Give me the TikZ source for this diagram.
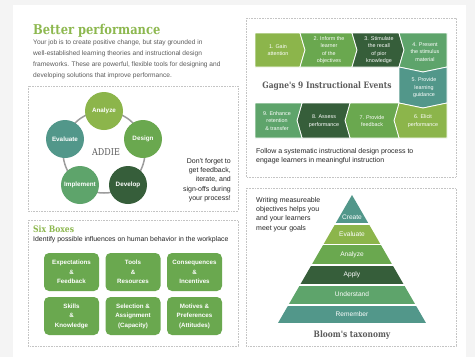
\documentclass[tikz,border=0pt]{standalone}
\usepackage{fontspec}
\setmainfont{Liberation Sans}
\newfontfamily\slab{DejaVu Serif}[FakeStretch=0.85]
\usetikzlibrary{positioning}

\definecolor{olive}{HTML}{8CB54B}
\definecolor{leaf}{HTML}{6AA84F}
\definecolor{forest}{HTML}{365E3A}
\definecolor{mint}{HTML}{5EA46B}
\definecolor{sea}{HTML}{52978A}
\definecolor{headgreen}{HTML}{8DB84F}
\definecolor{txtgray}{HTML}{5B5B5B}
\definecolor{txtdark}{HTML}{262626}
\definecolor{pagegray}{HTML}{F4F4F4}
\definecolor{ringgray}{HTML}{9C9C9C}
\definecolor{dotgray}{HTML}{C4C4C4}

\begin{document}
\begin{tikzpicture}
  [x=1pt,y=-1pt,every node/.style={inner sep=0pt,align=center}]

  \tikzstyle{dotbox} = [dotgray,densely dotted,line width=0.6pt]
  \tikzstyle{addie} = [circle,minimum size=38pt,text=white,font=\bfseries\fontsize{6.3}{7}\selectfont]
  \tikzstyle{sixbox} = [fill=leaf,rounded corners=5pt,minimum width=55pt,minimum height=38pt,text=white,font=\bfseries\fontsize{6.2}{9.5}\selectfont]
  \tikzstyle{chev} = [draw=white,line width=0.8pt]
  \tikzstyle{gtxt} = [text=white,font=\fontsize{5.4}{7.5}\selectfont]
  \tikzstyle{ptxt} = [text=white,font=\fontsize{6.6}{7}\selectfont]
  \tikzstyle{para} = [anchor=north west,align=left,text=txtdark,font=\fontsize{7}{9.3}\selectfont]
  \tikzstyle{head} = [text=txtgray,font=\slab\bfseries\fontsize{8.8}{9}\selectfont]

  \fill[pagegray] (0,0) rectangle (475,357);
  \fill[white] (13,5) rectangle (466,357);

  \draw[dotbox] (28,86) rectangle (238,211);
  \draw[dotbox] (28,220) rectangle (238,346);
  \draw[dotbox] (246,18) rectangle (456,177);
  \draw[dotbox] (246,188) rectangle (456,346);

  \node[anchor=west,text=headgreen,font=\slab\bfseries\fontsize{13.5}{14}\selectfont] (title) at (33,31) {Better performance};
  \node[para,text=txtgray,font=\fontsize{6.6}{11}\selectfont] (intro) at (33,40)
    {Your job is to create positive change, but stay grounded in\\
     well-established learning theories and instructional design\\
     frameworks. These are powerful, flexible tools for designing and\\
     developing solutions that improve performance.};

  \draw[ringgray,line width=1.5pt] (104,152) circle [radius=41pt];
  \node[addie,fill=olive]  (analyze)   at (104,111) {Analyze};
  \node[addie,fill=leaf]   (design)    at (143,139) {Design};
  \node[addie,fill=forest] (develop)   at (128,185) {Develop};
  \node[addie,fill=mint]   (implement) at (80,185)  {Implement};
  \node[addie,fill=sea]    (evaluate)  at (65,139)  {Evaluate};
  \node[text=txtgray,font=\slab\fontsize{9.5}{10}\selectfont] (addie) at (106,152) {ADDIE};
  \node[para,anchor=north east,align=right] (reminder) at (231,158)
    {Don't forget to\\get feedback,\\iterate, and\\sign-offs during\\your process!};

  \node[anchor=west,text=headgreen,font=\slab\bfseries\fontsize{9}{9}\selectfont] (sixtitle) at (33,229) {Six Boxes};
  \node[anchor=west,text=txtdark,font=\fontsize{6.9}{8}\selectfont] (sixsub) at (33,239.5)
    {Identify possible influences on human behavior in the workplace};
  \node[sixbox] (expect)   at (71.5,272) {Expectations\\\&\\Feedback};
  \node[sixbox] (tools)    at (133,272)  {Tools\\\&\\Resources};
  \node[sixbox] (conseq)   at (194.5,272) {Consequences\\\&\\Incentives};
  \node[sixbox] (skills)   at (71.5,316) {Skills\\\&\\Knowledge};
  \node[sixbox] (select)   at (133,316)  {Selection \&\\Assignment\\(Capacity)};
  \node[sixbox] (motives)  at (194.5,316) {Motives \&\\Preferences\\(Attitudes)};

  \filldraw[chev,fill=olive]  (255,33) -- (300,33) -- (305,50) -- (300,67) -- (255,67) -- cycle;
  \filldraw[chev,fill=leaf]   (300,33) -- (352,33) -- (357,50) -- (352,67) -- (300,67) -- (305,50) -- cycle;
  \filldraw[chev,fill=forest] (352,33) -- (399,33) -- (404,50) -- (399,67) -- (352,67) -- (357,50) -- cycle;
  \filldraw[chev,fill=mint]   (399,33) -- (447,33) -- (447,67) -- (423,72) -- (399,67) -- (404,50) -- cycle;
  \filldraw[chev,fill=sea]    (399,67) -- (423,72) -- (447,67) -- (447,103) -- (423,108) -- (399,103) -- cycle;
  \filldraw[chev,fill=olive]  (399,103) -- (423,108) -- (447,103) -- (447,138) -- (399,138) -- (394,120.5) -- cycle;
  \filldraw[chev,fill=leaf]   (350,103) -- (399,103) -- (394,120.5) -- (399,138) -- (350,138) -- (345,120.5) -- cycle;
  \filldraw[chev,fill=forest] (302,103) -- (350,103) -- (345,120.5) -- (350,138) -- (302,138) -- (297,120.5) -- cycle;
  \filldraw[chev,fill=mint]   (255,103) -- (302,103) -- (297,120.5) -- (302,138) -- (255,138) -- cycle;

  \node[gtxt] (gain)     at (278,50)  {1. Gain\\attention};
  \node[gtxt] (inform)   at (329,50)  {2. Inform the\\learner\\of the\\objectives};
  \node[gtxt] (recall)   at (379,50)  {3. Stimulate\\the recall\\of pior\\knowledge};
  \node[gtxt] (present)  at (425,52)  {4. Present\\the stimulus\\material};
  \node[gtxt] (guide)    at (424,88)  {5. Provide\\learning\\guidance};
  \node[gtxt] (elicit)   at (423,121) {6. Elicit\\performance};
  \node[gtxt] (feedback) at (372,121) {7. Provide\\feedback};
  \node[gtxt] (assess)   at (324,121) {8. Assess\\performance};
  \node[gtxt] (enhance)  at (277,121) {9. Enhance\\retention\\\& transfer};
  \node[head] (gagne) at (327,86) {Gagne's 9 Instructional Events};
  \node[para] (follow) at (256,148)
    {Follow a systematic instructional design process to\\engage learners in meaningful instruction};

  \node[para] (writing) at (256,197)
    {Writing measureable\\objectives helps you\\and your learners\\meet your goals};
  \begin{scope}
    \clip (352,195) -- (426,323) -- (278,323) -- cycle;
    \fill[sea]    (270,190)   rectangle (434,223.3);
    \fill[olive]  (270,224.7) rectangle (434,243.8);
    \fill[leaf]   (270,245.2) rectangle (434,264.3);
    \fill[forest] (270,265.7) rectangle (434,284.3);
    \fill[mint]   (270,285.7) rectangle (434,304.3);
    \fill[sea]    (270,305.7) rectangle (434,323);
  \end{scope}
  \node[ptxt] (create)     at (352,217) {Create};
  \node[ptxt] (evaluate2)  at (352,234.5) {Evaluate};
  \node[ptxt] (analyze2)   at (352,254.5) {Analyze};
  \node[ptxt] (apply)      at (352,275) {Apply};
  \node[ptxt] (understand) at (352,294.5) {Understand};
  \node[ptxt] (remember)   at (352,314.5) {Remember};
  \node[head] (bloom) at (352,335) {Bloom's taxonomy};
\end{tikzpicture}
\end{document}
